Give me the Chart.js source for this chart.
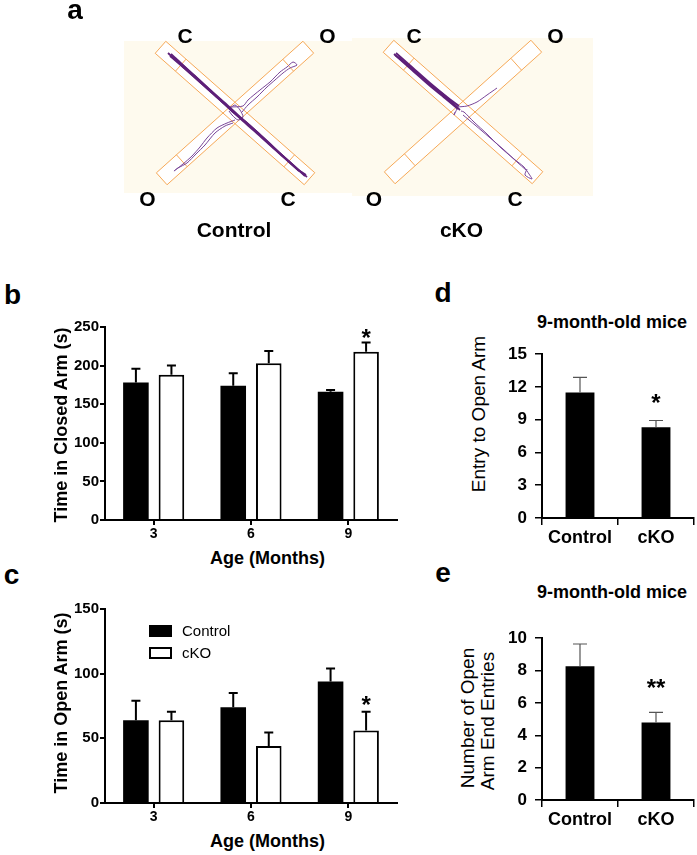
<!DOCTYPE html>
<html>
<head>
<meta charset="utf-8">
<script src="https://cdn.jsdelivr.net/npm/chart.js@4.4.0/dist/chart.umd.min.js"></script>
<style>
  body { margin: 0; background: #fff; width: 697px; height: 855px; position: relative; overflow: hidden;
         font-family: Arial, "Liberation Sans", sans-serif; }
  canvas { position: absolute; }
  .t { position: absolute; white-space: nowrap; line-height: 1; color: #000; }
  .box { position: absolute; box-sizing: border-box; }
</style>
</head>
<body>
<canvas id="maze" width="697" height="245" style="left:0;top:0"></canvas>
<canvas id="closed" width="360" height="229" style="left:40px;top:315px"></canvas>
<canvas id="open" width="360" height="230" style="left:40px;top:597px"></canvas>
<canvas id="entry" width="196" height="212" style="left:500px;top:336px"></canvas>
<canvas id="ends" width="196" height="210" style="left:500px;top:620px"></canvas>

<script>
// ---- DATA ----
const groups = ['Control', 'cKO'];
const ages = ['3', '6', '9'];

// b: time in closed arm (s)
const closedCtrl = [178, 174, 166];
const closedCtrlErr = [18, 16, 2.5];
const closedCko = [188, 203, 218];
const closedCkoErr = [12, 16, 12];
const closedSig = ['', '', '*'];

// c: time in open arm (s)
const openCtrl = [64, 74, 94];
const openCtrlErr = [15, 11, 10];
const openCko = [64, 44, 56];
const openCkoErr = [6.5, 10.5, 14.5];
const openSig = ['', '', '*'];

// d: entries to open arm, 9-month-old mice
const entryMean = [11.5, 8.3];
const entryErr = [1.38, 0.63];
const entrySig = ['', '*'];

// e: open arm end entries, 9-month-old mice
const endMean = [8.27, 4.79];
const endErr = [1.37, 0.62];
const endSig = ['', '**'];

// a: tracked paths, offsets from each maze centre
const ctrlPaths = [
  [[-67,-60],[-52,-46],[-34,-30],[-16,-14],[-2,-1],[14,12],[32,28],[50,45],[66,59],[72,64]],
  [[-64,-59],[-47,-43],[-28,-26],[-10,-10],[4,3],[22,19],[40,36],[58,52],[70,63]],
  [[-65,-57],[-45,-40],[-24,-21],[-6,-5],[8,8],[26,24],[45,41],[62,56],[71,62]],
  [[-60,-55],[-40,-37],[-20,-18],[-3,-2],[12,10],[30,27],[48,43],[64,58]]
];
const ctrlThinPaths = [
  [[-5,-6],[8,-7],[13,-13],[25,-23],[35,-31],[45,-41],[52,-46],[58,-51],[62,-48],[55,-45],[48,-40],[40,-33],[32,-26],[22,-16],[13,-8],[7,-1]],
  [[0,7],[-8,10],[-18,15],[-28,25],[-35,34],[-43,43],[-52,51],[-61,58],[-57,55],[-48,50],[-39,41],[-30,32],[-20,20],[-10,13],[-2,10]],
  [[-5,-5],[0,-8],[5,-3],[8,4],[3,7],[-3,2],[-6,-2]]
];
const ckoPaths = [
  [[-69,-58],[-53,-45],[-36,-30],[-19,-17],[-6,-5]],
  [[-67,-59],[-50,-44],[-33,-29],[-16,-15],[-4,-6]],
  [[-65,-55],[-48,-41],[-30,-25],[-14,-12],[-3,-2]],
  [[-68,-57],[-51,-42],[-34,-27],[-17,-13],[-5,-3]]
];
const ckoThinPaths = [
  [[-2,-1],[1,0],[11,10],[24,22],[37,35],[51,47],[61,55],[66,62],[69,67],[62,63],[64,57]],
  [[0,3],[12,13],[26,25],[40,37],[54,50],[63,58]],
  [[-6,-5],[4,-6],[14,-10],[24,-17],[34,-24]],
  [[-6,-3],[-9,3],[-8,0]]
];

// ---- LOOK ----
const FONT = 'Arial, "Liberation Sans", sans-serif';
Chart.defaults.font.family = FONT;
Chart.defaults.color = '#000';

const MAZES = [
  { cx: 235, cy: 113, backdrop: [124, 41, 352, 193], paths: ctrlPaths, thin: ctrlThinPaths },
  { cx: 463, cy: 112, backdrop: [352, 38, 593, 196], paths: ckoPaths, thin: ckoThinPaths }
];
const ARMS = [{ dx: 74.5, dy: 65.7 }, { dx: 73.3, dy: -65.8 }];
const ARM_HALF = 8;
const END_ZONE = 27;

function armCorners(m, a) {
  const len = Math.hypot(a.dx, a.dy);
  const nx = -a.dy / len * ARM_HALF, ny = a.dx / len * ARM_HALF;
  return [
    { x: m.cx - a.dx + nx, y: m.cy - a.dy + ny },
    { x: m.cx + a.dx + nx, y: m.cy + a.dy + ny },
    { x: m.cx + a.dx - nx, y: m.cy + a.dy - ny },
    { x: m.cx - a.dx - nx, y: m.cy - a.dy - ny },
    { x: m.cx - a.dx + nx, y: m.cy - a.dy + ny }
  ];
}

function zoneLines(m, a) {
  const len = Math.hypot(a.dx, a.dy);
  const k = (len - END_ZONE) / len;
  const nx = -a.dy / len * ARM_HALF, ny = a.dx / len * ARM_HALF;
  return [1, -1].map(s => {
    const px = m.cx + s * a.dx * k, py = m.cy + s * a.dy * k;
    return [{ x: px + nx, y: py + ny }, { x: px - nx, y: py - ny }];
  });
}

const mazeBackdrop = {
  id: 'mazeBackdrop',
  beforeDatasetsDraw(chart) {
    const { ctx, scales: { x, y } } = chart;
    ctx.save();
    MAZES.forEach(m => {
      const [x0, y0, x1, y1] = m.backdrop;
      ctx.fillStyle = '#fefaee';
      ctx.fillRect(x.getPixelForValue(x0), y.getPixelForValue(y0),
        x.getPixelForValue(x1) - x.getPixelForValue(x0), y.getPixelForValue(y1) - y.getPixelForValue(y0));
    });
    ctx.fillStyle = '#fff';
    MAZES.forEach(m => ARMS.forEach(a => {
      ctx.beginPath();
      armCorners(m, a).forEach((p, i) => {
        const px = x.getPixelForValue(p.x), py = y.getPixelForValue(p.y);
        i ? ctx.lineTo(px, py) : ctx.moveTo(px, py);
      });
      ctx.fill();
    }));
    ctx.restore();
  }
};

function mazeDatasets() {
  const out = [];
  const line = (data, color, width, order, tension) => ({
    data, showLine: true, borderColor: color, borderWidth: width,
    pointRadius: 0, tension, order
  });
  MAZES.forEach(m => {
    ARMS.forEach(a => {
      out.push(line(armCorners(m, a), '#f7a957', 1, 3, 0));
      zoneLines(m, a).forEach(z => out.push(line(z, '#f7a957', 1, 3, 0)));
    });
    const shift = pts => pts.map(([dx, dy]) => ({ x: m.cx + dx, y: m.cy + dy }));
    m.paths.forEach(p => out.push(line(shift(p), '#5e2079', 1.8, 1, 0.25)));
    m.thin.forEach(p => out.push(line(shift(p), '#7a4699', 1, 2, 0.25)));
  });
  return out;
}

new Chart(document.getElementById('maze'), {
  type: 'scatter',
  data: { datasets: mazeDatasets() },
  options: {
    responsive: false, animation: false, events: [],
    layout: { padding: 0 },
    plugins: { legend: { display: false }, tooltip: { enabled: false } },
    scales: {
      x: { type: 'linear', min: 0, max: 697, display: false },
      y: { type: 'linear', min: 0, max: 245, reverse: true, display: false }
    }
  },
  plugins: [mazeBackdrop]
});

// error bars (upper only) and significance stars
const errorBars = {
  id: 'errorBars',
  afterDatasetsDraw(chart, args, opts) {
    const { ctx } = chart;
    const y = chart.scales.y;
    chart.data.datasets.forEach((ds, di) => {
      if (!ds.errors) return;
      chart.getDatasetMeta(di).data.forEach((bar, i) => {
        const top = y.getPixelForValue(ds.data[i]);
        const end = y.getPixelForValue(ds.data[i] + ds.errors[i]);
        ctx.save();
        ctx.strokeStyle = opts.color;
        ctx.lineWidth = opts.width;
        ctx.beginPath();
        ctx.moveTo(bar.x, top);
        ctx.lineTo(bar.x, end);
        ctx.moveTo(bar.x - opts.cap, end);
        ctx.lineTo(bar.x + opts.cap, end);
        ctx.stroke();
        if (ds.sig && ds.sig[i]) {
          ctx.fillStyle = '#000';
          ctx.font = 'bold ' + opts.starSize + 'px ' + FONT;
          ctx.textAlign = 'center';
          ctx.textBaseline = 'alphabetic';
          ctx.fillText(ds.sig[i], bar.x, end - opts.starGap + 0.575 * opts.starSize);
        }
        ctx.restore();
      });
    });
  }
};

function axisStyle(tickLen, lineW) {
  return {
    grid: { display: true, drawOnChartArea: false, drawTicks: true, tickLength: tickLen, color: '#000', lineWidth: lineW },
    border: { display: true, color: '#000', width: 2 }
  };
}

function ageChart(id, ctrl, ctrlErr, cko, ckoErr, sig, max, starGap) {
  new Chart(document.getElementById(id), {
    type: 'bar',
    data: {
      labels: ages,
      datasets: [
        { label: groups[0], data: ctrl, errors: ctrlErr, backgroundColor: '#000', borderWidth: 0 },
        { label: groups[1], data: cko, errors: ckoErr, sig, backgroundColor: '#fff', borderColor: '#000', borderWidth: 2 }
      ]
    },
    options: {
      responsive: false, animation: false, events: [],
      layout: { padding: { top: 12, right: 3, left: 0, bottom: 0 } },
      datasets: { bar: { categoryPercentage: 0.73, barPercentage: 0.72 } },
      plugins: {
        legend: { display: false }, tooltip: { enabled: false },
        errorBars: { color: '#000', width: 2, cap: 4.5, starSize: 24, starGap }
      },
      scales: {
        x: {
          ...axisStyle(5, 2),
          grid: { ...axisStyle(5, 2).grid, offset: false },
          ticks: { font: { size: 14, weight: 'bold' }, padding: 1 },
          afterFit(s) { s.height = 24; }
        },
        y: {
          ...axisStyle(5, 2),
          min: 0, max,
          ticks: { stepSize: 50, font: { size: 15, weight: 'bold' }, padding: 1 },
          afterFit(s) { s.width = 65; }
        }
      }
    },
    plugins: [errorBars]
  });
}

ageChart('closed', closedCtrl, closedCtrlErr, closedCko, closedCkoErr, closedSig, 250, 10.5);
ageChart('open', openCtrl, openCtrlErr, openCko, openCkoErr, openSig, 150, 12.5);

function miceChart(id, mean, err, sig, max, step, starGap) {
  new Chart(document.getElementById(id), {
    type: 'bar',
    data: {
      labels: groups,
      datasets: [{ data: mean, errors: err, sig, backgroundColor: '#000', borderWidth: 0 }]
    },
    options: {
      responsive: false, animation: false, events: [],
      layout: { padding: { top: 12, right: 2, left: 0, bottom: 0 } },
      datasets: { bar: { categoryPercentage: 1, barPercentage: 0.38 } },
      plugins: {
        legend: { display: false }, tooltip: { enabled: false },
        errorBars: { color: '#555', width: 1.2, cap: 7, starSize: 24, starGap }
      },
      scales: {
        x: {
          ...axisStyle(7, 1.5),
          ticks: { font: { size: 18, weight: 'bold' }, padding: 2 },
          afterFit(s) { s.height = 30; }
        },
        y: {
          ...axisStyle(7, 1.5),
          min: 0, max,
          ticks: { stepSize: step, font: { size: 17, weight: 'bold' }, padding: 8 },
          afterFit(s) { s.width = 42; }
        }
      }
    },
    plugins: [errorBars]
  });
}

miceChart('entry', entryMean, entryErr, entrySig, 15, 3, 23.5);
miceChart('ends', endMean, endErr, endSig, 10, 2, 30.5);

// ---- TEXT ----
function label(text, x, baseline, size, weight, align) {
  const el = document.createElement('div');
  el.className = 't';
  el.textContent = text;
  el.style.fontSize = size + 'px';
  el.style.fontWeight = weight;
  el.style.left = x + 'px';
  el.style.top = (baseline - 0.8465 * size) + 'px';
  if (align !== 'left') el.style.transform = 'translateX(-50%)';
  document.body.appendChild(el);
}
function vlabel(text, baselineX, cy, size, weight) {
  const el = document.createElement('div');
  el.className = 't';
  el.textContent = text;
  el.style.fontSize = size + 'px';
  el.style.fontWeight = weight;
  el.style.left = (baselineX - 0.3465 * size) + 'px';
  el.style.top = cy + 'px';
  el.style.transform = 'translate(-50%,-50%) rotate(-90deg)';
  document.body.appendChild(el);
}

// panel letters
label('a', 75, 20, 28, 'bold');
label('b', 12.5, 305, 28, 'bold');
label('c', 11.5, 585, 28, 'bold');
label('d', 443, 303, 28, 'bold');
label('e', 443, 583, 28, 'bold');

// maze arm labels
[['C', 185, 43], ['O', 327.5, 43], ['O', 147.5, 206], ['C', 288, 206],
 ['C', 414, 43], ['O', 555.5, 43], ['O', 374, 206], ['C', 515, 206]]
  .forEach(([t, x, b]) => label(t, x, b, 21, 'bold'));
label(groups[0], 234, 237, 21, 'bold');
label(groups[1], 461.5, 237, 21, 'bold');

// b / c axis titles
vlabel('Time in Closed Arm (s)', 67, 425, 18, 'bold');
vlabel('Time in Open Arm (s)', 67.5, 703, 18, 'bold');
label('Age (Months)', 267.5, 564, 18, 'bold');
label('Age (Months)', 267.5, 847, 18, 'bold');

// c legend
[['#000', 'none', 625, 636], ['#fff', '2px solid #000', 647, 658]].forEach(([bg, border, top, base], i) => {
  const b = document.createElement('div');
  b.className = 'box';
  Object.assign(b.style, { left: '149px', top: top + 'px', width: '23px', height: '12px', background: bg, border });
  document.body.appendChild(b);
  label(groups[i], 182, base, 15, 'normal', 'left');
});

// d / e titles
label('9-month-old  mice', 612, 328, 18, 'bold');
label('9-month-old  mice', 612, 598, 18, 'bold');
vlabel('Entry to Open Arm', 485, 414, 19, 'normal');
vlabel('Number of Open', 473.5, 717.5, 19, 'normal');
vlabel('Arm End Entries', 493.5, 721, 19, 'normal');
</script>
</body>
</html>
